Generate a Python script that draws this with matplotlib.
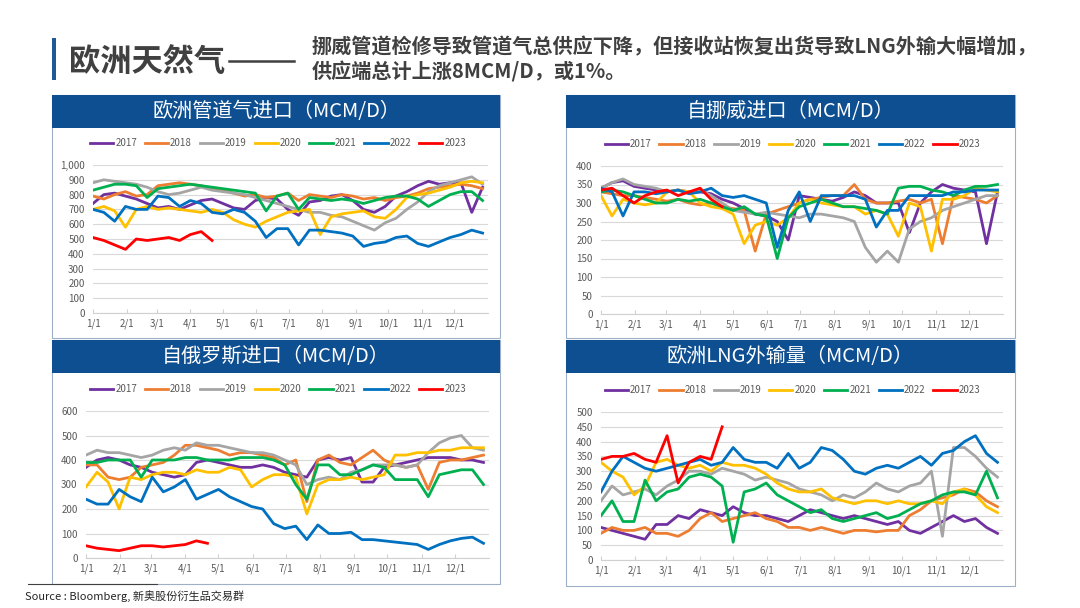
import numpy as np
import matplotlib
matplotlib.use("Agg")
import matplotlib.pyplot as plt
from matplotlib.patches import Rectangle
from matplotlib.ticker import FuncFormatter

plt.rcParams["font.family"] = ["Noto Sans CJK SC", "DejaVu Sans"]
plt.rcParams["axes.unicode_minus"] = False

# 10 日一個點（1/1 起），2023 只到 4 月下旬
days = np.arange(0, 365, 10)
days23 = np.arange(0, 120, 10)
years = ["2017", "2018", "2019", "2020", "2021", "2022", "2023"]
colors = ["#7030A0", "#ED7D31", "#A5A5A5", "#FFC000", "#00B050", "#0070C0", "#FF0000"]
month_pos = [0, 31, 59, 90, 120, 151, 181, 212, 243, 273, 304, 334]
month_lbl = ["1/1", "2/1", "3/1", "4/1", "5/1", "6/1", "7/1", "8/1", "9/1", "10/1", "11/1", "12/1"]

# 欧洲管道气进口
pipe_2017 = [740,800,810,790,770,740,710,720,700,730,760,770,740,710,700,760,780,770,700,660,750,760,790,800,760,700,680,720,790,820,860,890,870,880,880,680,850]
pipe_2018 = [790,770,800,820,790,800,860,870,880,870,860,840,830,810,790,800,780,790,810,760,800,790,780,800,790,770,780,760,780,790,810,840,850,860,870,860,840]
pipe_2019 = [880,900,890,880,870,850,820,800,810,830,850,830,820,810,800,780,760,740,720,700,680,680,660,650,620,590,560,610,640,700,750,820,860,880,900,920,870]
pipe_2020 = [700,720,690,580,700,720,700,710,700,690,680,700,680,630,600,580,620,650,680,690,700,530,650,670,680,690,650,640,700,780,800,810,830,850,880,890,880]
pipe_2021 = [830,850,870,870,860,780,840,850,860,870,860,850,840,830,820,810,690,790,810,700,780,770,760,770,760,740,760,780,790,790,770,720,760,800,820,820,760]
pipe_2022 = [700,680,620,720,700,700,790,780,720,760,740,680,670,700,680,620,510,570,570,460,560,560,550,540,520,450,470,480,510,520,470,450,480,510,530,560,540]
pipe_2023 = [510,490,460,430,500,490,500,510,490,530,550,490]

# 自挪威进口
nor_2017 = [340,355,360,345,340,335,330,335,330,330,325,310,300,285,270,265,250,200,320,315,310,305,315,330,320,300,300,300,220,300,330,350,340,335,330,190,330]
nor_2018 = [330,325,320,320,315,310,305,310,300,295,300,290,285,280,170,270,280,290,300,310,315,320,320,350,310,300,300,305,310,300,310,190,320,315,310,300,320]
nor_2019 = [340,355,365,350,345,340,330,335,330,335,320,300,280,275,270,275,270,265,260,270,270,265,260,250,180,140,170,140,230,250,260,280,290,300,310,320,320]
nor_2020 = [320,265,310,300,295,300,330,335,330,300,290,285,270,190,240,250,240,260,300,310,300,295,290,290,270,280,270,210,300,290,170,310,310,320,340,335,330]
nor_2021 = [330,335,330,320,310,300,300,310,305,310,300,290,280,290,270,265,150,260,290,300,310,300,290,290,285,280,270,340,345,345,335,330,320,335,345,345,350]
nor_2022 = [340,330,265,330,330,325,330,335,325,330,340,320,315,320,310,300,180,280,330,250,320,320,320,320,310,235,280,280,320,320,320,320,330,330,335,335,335]
nor_2023 = [335,340,320,300,320,330,335,320,330,340,310,290]

# 自俄罗斯进口
rus_2017 = [370,400,410,400,380,370,350,340,330,340,390,400,390,380,370,370,380,370,350,340,330,400,410,400,410,310,310,370,380,390,400,410,410,410,400,400,390]
rus_2018 = [380,380,330,320,330,370,380,390,420,460,460,450,440,420,430,430,420,410,380,400,230,400,420,390,380,410,440,400,380,370,380,280,390,400,400,410,420]
rus_2019 = [420,440,430,430,420,410,420,440,450,440,470,460,460,450,440,430,430,420,400,380,300,320,330,320,350,360,380,380,380,370,380,430,470,490,500,450,440]
rus_2020 = [290,350,310,200,330,320,340,350,350,340,360,350,350,370,360,290,320,340,340,330,180,300,320,320,330,320,330,340,420,420,430,430,440,440,450,450,450]
rus_2021 = [390,390,400,400,400,330,400,400,400,410,410,400,400,400,410,410,410,400,380,300,240,380,380,340,340,360,380,370,320,320,320,250,340,350,360,360,300]
rus_2022 = [240,220,220,280,250,230,330,270,290,320,240,260,280,250,230,210,200,140,120,130,75,135,100,100,105,75,75,70,65,60,55,35,55,70,80,85,60]
rus_2023 = [50,40,35,30,40,50,50,45,50,55,70,60]

# 欧洲LNG外输量
lng_2017 = [110,100,90,80,70,120,120,150,140,170,160,150,180,160,150,150,140,130,150,170,160,150,140,150,140,130,120,130,100,90,110,130,150,130,140,110,90]
lng_2018 = [90,110,100,100,110,90,90,80,100,140,160,130,140,150,160,140,130,110,110,100,110,100,90,100,100,95,100,100,150,170,200,210,220,240,230,200,180]
lng_2019 = [200,250,220,230,240,220,250,270,300,300,290,310,300,290,270,280,270,260,240,230,220,200,220,210,230,260,240,230,250,260,300,80,380,380,350,310,280]
lng_2020 = [330,300,280,220,250,330,340,320,310,320,300,330,320,320,310,290,260,240,230,230,240,210,200,190,200,200,190,200,190,190,200,190,230,240,220,180,160]
lng_2021 = [150,200,130,130,270,200,230,240,280,290,280,250,60,230,240,260,220,200,180,160,170,140,130,140,150,160,140,150,170,190,200,220,230,230,220,300,210]
lng_2022 = [230,300,350,330,310,300,310,320,330,340,320,330,380,340,330,330,310,360,310,330,380,370,340,300,290,310,320,310,330,350,320,360,370,400,420,360,330]
lng_2023 = [340,350,350,360,340,330,420,260,330,350,340,450]

W, H = 1080, 608
fig = plt.figure(figsize=(W/100, H/100), dpi=100)
fig.set_facecolor("white")

def fx(x): return x / W
def fy(y): return 1 - y / H

def panel(box, hdr_bot, axpos, leg_y, title, series, ymax, ystep, comma=False):
    x0, y0, x1, y1 = box
    fig.add_artist(Rectangle((fx(x0), fy(y1)), fx(x1-x0), (y1-y0)/H, transform=fig.transFigure,
                             facecolor="white", edgecolor="#9DB0C8", lw=0.8, zorder=0))
    fig.add_artist(Rectangle((fx(x0), fy(hdr_bot)), fx(x1-x0), (hdr_bot-y0)/H, transform=fig.transFigure,
                             facecolor="#0E4F91", edgecolor="none", zorder=1))
    fig.text(fx((x0+x1)/2), fy((y0+hdr_bot)/2), title, color="white", fontsize=14.5,
             ha="center", va="center")
    l, r, t, b = axpos
    ax = fig.add_axes([fx(l), fy(b), fx(r-l), (b-t)/H])
    ax.patch.set_alpha(0)
    for i, (yr, c) in enumerate(zip(years, colors)):
        d = days23 if yr == "2023" else days
        ax.plot(d, series[i], color=c, lw=2.0, label=yr, zorder=2+i)
    ax.set_xlim(0, 365); ax.set_ylim(0, ymax)
    ax.set_yticks(np.arange(0, ymax+1, ystep))
    if comma:
        ax.yaxis.set_major_formatter(FuncFormatter(lambda v, p: f"{v:,.0f}"))
    ax.set_xticks(month_pos); ax.set_xticklabels(month_lbl)
    ax.grid(axis="y", color="#D9D9D9", lw=0.8); ax.set_axisbelow(True)
    for s in ("top", "right", "left"): ax.spines[s].set_visible(False)
    ax.spines["bottom"].set_color("#D0D0D0")
    ax.tick_params(axis="y", length=0, labelsize=7, labelcolor="#595959", pad=6)
    ax.tick_params(axis="x", length=3, direction="in", color="#D0D0D0", labelsize=7, labelcolor="#595959", pad=4)
    ax.legend(loc="center", bbox_to_anchor=(fx((x0+x1)/2 + 2), fy(leg_y)), bbox_transform=fig.transFigure,
              ncol=7, frameon=False, fontsize=7, handlelength=2.4, handletextpad=0.2, columnspacing=0.8,
              labelcolor="#595959")
    return ax

panel((52, 95, 500, 338), 128, (93, 488, 165, 313), 143, "欧洲管道气进口（MCM/D）",
      [pipe_2017, pipe_2018, pipe_2019, pipe_2020, pipe_2021, pipe_2022, pipe_2023], 1000, 100, comma=True)
panel((566, 95, 1015, 338), 128, (601, 1003, 166, 314), 144, "自挪威进口（MCM/D）",
      [nor_2017, nor_2018, nor_2019, nor_2020, nor_2021, nor_2022, nor_2023], 400, 50)
panel((52, 340, 500, 584), 373, (86, 489, 411, 558), 389, "自俄罗斯进口（MCM/D）",
      [rus_2017, rus_2018, rus_2019, rus_2020, rus_2021, rus_2022, rus_2023], 600, 100)
panel((566, 340, 1015, 586), 373, (601, 1003, 412, 560), 390, "欧洲LNG外输量（MCM/D）",
      [lng_2017, lng_2018, lng_2019, lng_2020, lng_2021, lng_2022, lng_2023], 500, 50)

# 標題區
fig.add_artist(Rectangle((fx(52), fy(80)), fx(4), 42/H, transform=fig.transFigure,
                         facecolor="#1F5A96", edgecolor="none"))
fig.text(fx(69), fy(63), "欧洲天然气", fontsize=22.5, fontweight="bold", color="#404040", va="center")
fig.add_artist(plt.Line2D([fx(229), fx(294)], [fy(61), fy(61)], transform=fig.transFigure, color="#404040", lw=1.8))
fig.text(fx(312), fy(47), "挪威管道检修导致管道气总供应下降，但接收站恢复出货导致LNG外输大幅增加，",
         fontsize=14.5, fontweight="bold", color="#404040", va="center")
fig.text(fx(312), fy(72), "供应端总计上涨8MCM/D，或1%。", fontsize=14.5, fontweight="bold", color="#404040", va="center")

# 來源
fig.add_artist(plt.Line2D([fx(28), fx(157)], [fy(584), fy(584)], transform=fig.transFigure, color="#404040", lw=0.8))
fig.text(fx(25), fy(596), "Source : Bloomberg, 新奥股份衍生品交易群", fontsize=8, color="#262626", va="center")

fig.savefig("out.png", dpi=100, facecolor="white")
